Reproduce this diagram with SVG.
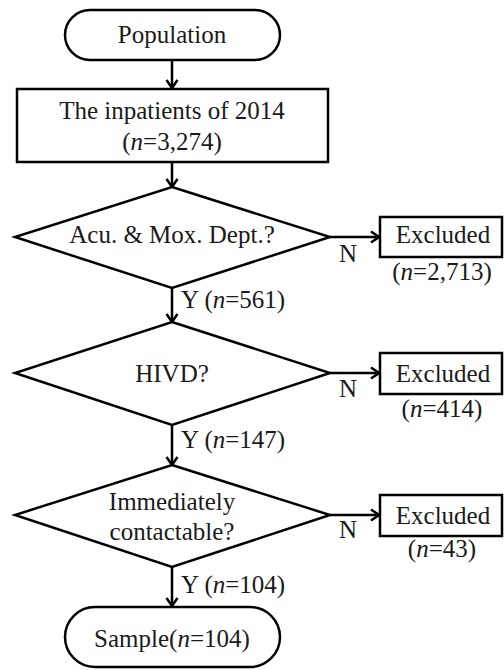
<svg xmlns="http://www.w3.org/2000/svg" width="504" height="670" viewBox="0 0 504 670" font-family="Liberation Serif, Times New Roman, serif">
<defs>
<marker id="ah" markerUnits="userSpaceOnUse" markerWidth="14" markerHeight="14" viewBox="0 0 14 14" refX="12" refY="7" orient="auto">
<path d="M4,1.5 L12,7 L4,12.5" fill="none" stroke="#000" stroke-width="2.5" stroke-linejoin="miter"/>
</marker>
</defs>
<style>
.s{fill:#fff;stroke:#000;stroke-width:2.5}
.t{font-family:'Liberation Serif','Times New Roman',serif;font-size:25px;fill:#1a1a1a}
.m{text-anchor:middle}
.c{fill:none;stroke:#000;stroke-width:2.5;marker-end:url(#ah)}
</style>
<rect width="504" height="670" fill="#fff"/>
<g id="connectors">
<line class="c" x1="172" y1="60" x2="172" y2="88"/>
<line class="c" x1="172" y1="162" x2="172" y2="187"/>
<line class="c" x1="172" y1="288" x2="172" y2="322"/>
<line class="c" x1="172" y1="425" x2="172" y2="465"/>
<line class="c" x1="172" y1="567" x2="172" y2="606"/>
<line class="c" x1="330" y1="237" x2="379" y2="237"/>
<line class="c" x1="330" y1="373" x2="379" y2="373"/>
<line class="c" x1="330" y1="515" x2="379" y2="515"/>
<text class="t" x="348" y="262" text-anchor="middle">N</text>
<text class="t" x="348" y="397" text-anchor="middle">N</text>
<text class="t" x="348" y="538" text-anchor="middle">N</text>
<text class="t" x="181" y="308">Y (<tspan font-style="italic">n</tspan>=561)</text>
<text class="t" x="181" y="448">Y (<tspan font-style="italic">n</tspan>=147)</text>
<text class="t" x="181" y="593">Y (<tspan font-style="italic">n</tspan>=104)</text>
</g>
<g id="population">
<rect class="s" x="65" y="10" width="215" height="50" rx="25" ry="25"/>
<text class="t m" x="172" y="43">Population</text>
</g>
<g id="inpatients">
<rect class="s" x="17" y="89" width="311" height="73"/>
<text class="t m" x="172" y="119">The inpatients of 2014</text>
<text class="t m" x="172" y="150">(<tspan font-style="italic">n</tspan>=3,274)</text>
</g>
<g id="dept">
<polygon class="s" points="172,187 330,237 172,288 15,237"/>
<text class="t m" x="172" y="243">Acu. &amp; Mox. Dept.?</text>
</g>
<g id="excluded1">
<rect class="s" x="380" y="217" width="122" height="40"/>
<text class="t m" x="443" y="243">Excluded</text>
<text class="t m" x="442" y="280">(<tspan font-style="italic">n</tspan>=2,713)</text>
</g>
<g id="hivd">
<polygon class="s" points="172,322 330,373 172,425 15,373"/>
<text class="t m" x="172" y="382">HIVD?</text>
</g>
<g id="excluded2">
<rect class="s" x="380" y="353" width="122" height="41"/>
<text class="t m" x="443" y="382">Excluded</text>
<text class="t m" x="442" y="417">(<tspan font-style="italic">n</tspan>=414)</text>
</g>
<g id="contact">
<polygon class="s" points="172,465 330,515 172,567 15,515"/>
<text class="t m" x="172" y="510">Immediately</text>
<text class="t m" x="172" y="540">contactable?</text>
</g>
<g id="excluded3">
<rect class="s" x="380" y="495" width="122" height="41"/>
<text class="t m" x="443" y="524">Excluded</text>
<text class="t m" x="442" y="557">(<tspan font-style="italic">n</tspan>=43)</text>
</g>
<g id="sample">
<rect class="s" x="65" y="607" width="215" height="60" rx="30" ry="30"/>
<text class="t m" x="172" y="647">Sample(<tspan font-style="italic">n</tspan>=104)</text>
</g>
</svg>
